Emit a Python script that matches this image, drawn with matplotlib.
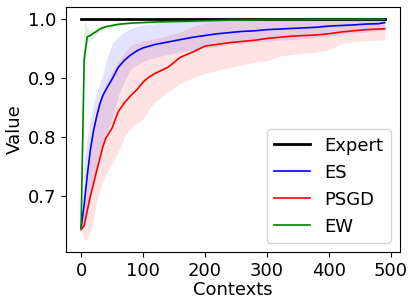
import matplotlib
matplotlib.use("Agg")
import matplotlib.pyplot as plt

contexts = [0, 5, 10, 15, 20, 25, 30, 35, 40, 50, 60, 70, 80, 90, 100, 110, 120, 140,
            160, 180, 200, 220, 240, 260, 280, 300, 320, 340, 360, 380, 400, 420, 440,
            460, 480, 490]

expert = [1.0] * len(contexts)

es_mean = [0.645, 0.685, 0.735, 0.778, 0.810, 0.834, 0.855, 0.870, 0.880, 0.898, 0.918,
           0.930, 0.939, 0.946, 0.951, 0.954, 0.957, 0.961, 0.965, 0.969, 0.972, 0.975,
           0.977, 0.979, 0.980, 0.982, 0.983, 0.984, 0.985, 0.986, 0.988, 0.989, 0.990,
           0.9915, 0.992, 0.994]
es_lo = [0.645, 0.650, 0.675, 0.700, 0.725, 0.750, 0.770, 0.790, 0.805, 0.830, 0.870,
         0.895, 0.915, 0.922, 0.928, 0.932, 0.935, 0.940, 0.944, 0.948, 0.951, 0.954,
         0.957, 0.959, 0.961, 0.962, 0.964, 0.965, 0.967, 0.969, 0.971, 0.974, 0.976,
         0.978, 0.980, 0.981]
es_hi = [0.645, 0.760, 0.800, 0.830, 0.855, 0.875, 0.890, 0.905, 0.928, 0.958, 0.970,
         0.978, 0.984, 0.987, 0.990, 0.991, 0.992, 0.994, 0.995, 0.996, 0.997, 0.998,
         0.998, 0.999, 0.999, 0.999, 0.999, 0.999, 0.999, 0.999, 0.999, 0.999, 0.999,
         0.999, 0.999, 0.999]

psgd_mean = [0.643, 0.650, 0.675, 0.700, 0.720, 0.742, 0.762, 0.783, 0.798, 0.815, 0.843,
             0.858, 0.870, 0.880, 0.893, 0.902, 0.908, 0.918, 0.935, 0.944, 0.954, 0.957,
             0.960, 0.962, 0.964, 0.967, 0.969, 0.971, 0.972, 0.973, 0.975, 0.978, 0.980,
             0.982, 0.983, 0.9835]
psgd_lo = [0.643, 0.625, 0.627, 0.640, 0.662, 0.690, 0.710, 0.725, 0.735, 0.755, 0.776,
           0.800, 0.815, 0.823, 0.830, 0.848, 0.860, 0.876, 0.891, 0.900, 0.908, 0.913,
           0.918, 0.922, 0.927, 0.929, 0.937, 0.940, 0.942, 0.944, 0.947, 0.959, 0.961,
           0.963, 0.964, 0.965]
psgd_hi = [0.643, 0.670, 0.720, 0.770, 0.810, 0.846, 0.860, 0.875, 0.890, 0.910, 0.928,
           0.943, 0.955, 0.959, 0.962, 0.965, 0.967, 0.972, 0.978, 0.988, 0.993, 0.995,
           0.996, 0.997, 0.998, 0.998, 0.998, 0.998, 0.998, 0.998, 0.998, 0.998, 0.998,
           0.998, 0.998, 0.998]

ew_mean = [0.645, 0.932, 0.970, 0.972, 0.976, 0.979, 0.983, 0.985, 0.987, 0.989, 0.991,
           0.992, 0.993, 0.9935, 0.994, 0.9945, 0.995, 0.9955, 0.996, 0.9965, 0.997,
           0.9975, 0.998, 0.998, 0.9985, 0.999, 0.999, 0.999, 0.999, 0.9995, 0.9995,
           0.9995, 0.9995, 0.9995, 0.9995, 0.9995]
ew_lo = [0.645, 0.900, 0.958, 0.964, 0.969, 0.974, 0.978, 0.981, 0.983, 0.986, 0.988,
         0.990, 0.991, 0.9915, 0.992, 0.9925, 0.993, 0.9935, 0.994, 0.9945, 0.995, 0.996,
         0.9965, 0.9965, 0.997, 0.998, 0.998, 0.998, 0.998, 0.999, 0.999, 0.999, 0.999,
         0.999, 0.999, 0.999]
ew_hi = [0.645, 0.998, 0.985, 0.981, 0.983, 0.985, 0.988, 0.989, 0.990, 0.992, 0.993,
         0.994, 0.995, 0.9955, 0.996, 0.9965, 0.997, 0.9975, 0.998, 0.998, 0.999, 0.999,
         0.999, 0.999, 1.0, 1.0, 1.0, 1.0, 1.0, 1.0, 1.0, 1.0, 1.0, 1.0, 1.0, 1.0]

plt.rcParams["font.size"] = 13

fig = plt.figure(figsize=(4.17, 3.06), dpi=100)
ax = fig.add_axes([0.158, 0.1765, 0.801, 0.8005])

ax.plot(contexts, expert, color="black", linewidth=2.0, label="Expert")

ax.fill_between(contexts, es_lo, es_hi, color="blue", alpha=0.11, linewidth=0)
ax.plot(contexts, es_mean, color="blue", linewidth=1.2, label="ES")

ax.fill_between(contexts, psgd_lo, psgd_hi, color="red", alpha=0.11, linewidth=0)
ax.plot(contexts, psgd_mean, color="red", linewidth=1.2, label="PSGD")

ax.fill_between(contexts, ew_lo, ew_hi, color="green", alpha=0.11, linewidth=0)
ax.plot(contexts, ew_mean, color="green", linewidth=1.2, label="EW")

ax.set_xlim(-24.5, 514.5)
ax.set_ylim(0.605, 1.0203)
ax.set_xticks([0, 100, 200, 300, 400, 500])
ax.set_yticks([0.7, 0.8, 0.9, 1.0])
ax.set_xlabel("Contexts", labelpad=1)
ax.set_ylabel("Value", labelpad=3)
ax.legend(loc="lower right")

fig.savefig("out.png", dpi=100)
